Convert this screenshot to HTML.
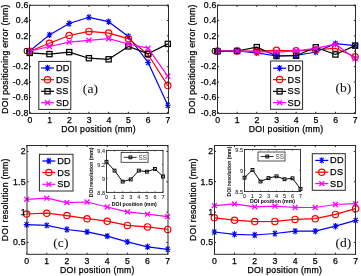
<!DOCTYPE html>
<html><head><meta charset="utf-8"><style>
html,body{margin:0;padding:0;background:#fff;}
body{width:361px;height:276px;overflow:hidden;}
svg{display:block;will-change:transform;}
</style></head><body>
<svg width="361" height="276" viewBox="0 0 361 276">
<rect width="361" height="276" fill="#fff"/>
<path d="M29.71 51 L49.44 34.9 L69.17 23.5 L88.9 17.3 L108.63 21.7 L128.36 36.5 L148.09 62.4 L167.82 105.3" stroke="#0000ff" stroke-width="1.2" fill="none" stroke-linejoin="round"/>
<path d="M26.83 51H32.59M29.71 47.8V54.2M27.73 48.44L31.69 53.56M27.73 53.56L31.69 48.44" stroke="#0000ff" stroke-width="1.05" fill="none"/>
<path d="M46.56 34.9H52.32M49.44 31.7V38.1M47.46 32.34L51.42 37.46M47.46 37.46L51.42 32.34" stroke="#0000ff" stroke-width="1.05" fill="none"/>
<path d="M66.29 23.5H72.05M69.17 20.3V26.7M67.19 20.94L71.15 26.06M67.19 26.06L71.15 20.94" stroke="#0000ff" stroke-width="1.05" fill="none"/>
<path d="M86.02 17.3H91.78M88.9 14.1V20.5M86.92 14.74L90.88 19.86M86.92 19.86L90.88 14.74" stroke="#0000ff" stroke-width="1.05" fill="none"/>
<path d="M105.75 21.7H111.51M108.63 18.5V24.9M106.65 19.14L110.61 24.26M106.65 24.26L110.61 19.14" stroke="#0000ff" stroke-width="1.05" fill="none"/>
<path d="M125.48 36.5H131.24M128.36 33.3V39.7M126.38 33.94L130.34 39.06M126.38 39.06L130.34 33.94" stroke="#0000ff" stroke-width="1.05" fill="none"/>
<path d="M145.21 62.4H150.97M148.09 59.2V65.6M146.11 59.84L150.07 64.96M146.11 64.96L150.07 59.84" stroke="#0000ff" stroke-width="1.05" fill="none"/>
<path d="M164.94 105.3H170.7M167.82 102.1V108.5M165.84 102.74L169.8 107.86M165.84 107.86L169.8 102.74" stroke="#0000ff" stroke-width="1.05" fill="none"/>
<path d="M29.71 51.24 L49.44 43.3 L69.17 35.5 L88.9 31.4 L108.63 33.1 L128.36 38.7 L148.09 54.5 L167.82 85.6" stroke="#ff0000" stroke-width="1.2" fill="none" stroke-linejoin="round"/>
<circle cx="29.71" cy="51.24" r="3.15" stroke="#ff0000" stroke-width="1.2" fill="none"/>
<circle cx="49.44" cy="43.3" r="3.15" stroke="#ff0000" stroke-width="1.2" fill="none"/>
<circle cx="69.17" cy="35.5" r="3.15" stroke="#ff0000" stroke-width="1.2" fill="none"/>
<circle cx="88.9" cy="31.4" r="3.15" stroke="#ff0000" stroke-width="1.2" fill="none"/>
<circle cx="108.63" cy="33.1" r="3.15" stroke="#ff0000" stroke-width="1.2" fill="none"/>
<circle cx="128.36" cy="38.7" r="3.15" stroke="#ff0000" stroke-width="1.2" fill="none"/>
<circle cx="148.09" cy="54.5" r="3.15" stroke="#ff0000" stroke-width="1.2" fill="none"/>
<circle cx="167.82" cy="85.6" r="3.15" stroke="#ff0000" stroke-width="1.2" fill="none"/>
<path d="M29.71 52.9 L49.44 54.1 L69.17 52.1 L88.9 58.2 L108.63 59.3 L128.36 46.4 L148.09 53.7 L167.82 43.9" stroke="#000000" stroke-width="1.2" fill="none" stroke-linejoin="round"/>
<rect x="27.11" y="50.3" width="5.2" height="5.2" stroke="#000000" stroke-width="1.25" fill="none"/>
<rect x="46.84" y="51.5" width="5.2" height="5.2" stroke="#000000" stroke-width="1.25" fill="none"/>
<rect x="66.57" y="49.5" width="5.2" height="5.2" stroke="#000000" stroke-width="1.25" fill="none"/>
<rect x="86.3" y="55.6" width="5.2" height="5.2" stroke="#000000" stroke-width="1.25" fill="none"/>
<rect x="106.03" y="56.7" width="5.2" height="5.2" stroke="#000000" stroke-width="1.25" fill="none"/>
<rect x="125.76" y="43.8" width="5.2" height="5.2" stroke="#000000" stroke-width="1.25" fill="none"/>
<rect x="145.49" y="51.1" width="5.2" height="5.2" stroke="#000000" stroke-width="1.25" fill="none"/>
<rect x="165.22" y="41.3" width="5.2" height="5.2" stroke="#000000" stroke-width="1.25" fill="none"/>
<path d="M29.71 51.24 L49.44 46.5 L69.17 42.1 L88.9 40.3 L108.63 38.7 L128.36 44 L148.09 48.2 L167.82 76.3" stroke="#ff00ff" stroke-width="1.2" fill="none" stroke-linejoin="round"/>
<path d="M27.25 48.78L32.17 53.7M27.25 53.7L32.17 48.78" stroke="#ff00ff" stroke-width="1.3" fill="none"/>
<path d="M46.97 44.03L51.91 48.97M46.97 48.97L51.91 44.03" stroke="#ff00ff" stroke-width="1.3" fill="none"/>
<path d="M66.7 39.64L71.64 44.56M66.7 44.56L71.64 39.64" stroke="#ff00ff" stroke-width="1.3" fill="none"/>
<path d="M86.44 37.83L91.37 42.77M86.44 42.77L91.37 37.83" stroke="#ff00ff" stroke-width="1.3" fill="none"/>
<path d="M106.16 36.23L111.09 41.17M106.16 41.17L111.09 36.23" stroke="#ff00ff" stroke-width="1.3" fill="none"/>
<path d="M125.9 41.53L130.83 46.47M125.9 46.47L130.83 41.53" stroke="#ff00ff" stroke-width="1.3" fill="none"/>
<path d="M145.62 45.73L150.56 50.67M145.62 50.67L150.56 45.73" stroke="#ff00ff" stroke-width="1.3" fill="none"/>
<path d="M165.36 73.83L170.29 78.77M165.36 78.77L170.29 73.83" stroke="#ff00ff" stroke-width="1.3" fill="none"/>
<line x1="29.71" y1="113.4" x2="29.71" y2="111.8" stroke="#2a2a2a" stroke-width="1"/>
<line x1="29.71" y1="5.3" x2="29.71" y2="6.9" stroke="#2a2a2a" stroke-width="1"/>
<line x1="49.44" y1="113.4" x2="49.44" y2="111.8" stroke="#2a2a2a" stroke-width="1"/>
<line x1="49.44" y1="5.3" x2="49.44" y2="6.9" stroke="#2a2a2a" stroke-width="1"/>
<line x1="69.17" y1="113.4" x2="69.17" y2="111.8" stroke="#2a2a2a" stroke-width="1"/>
<line x1="69.17" y1="5.3" x2="69.17" y2="6.9" stroke="#2a2a2a" stroke-width="1"/>
<line x1="88.9" y1="113.4" x2="88.9" y2="111.8" stroke="#2a2a2a" stroke-width="1"/>
<line x1="88.9" y1="5.3" x2="88.9" y2="6.9" stroke="#2a2a2a" stroke-width="1"/>
<line x1="108.63" y1="113.4" x2="108.63" y2="111.8" stroke="#2a2a2a" stroke-width="1"/>
<line x1="108.63" y1="5.3" x2="108.63" y2="6.9" stroke="#2a2a2a" stroke-width="1"/>
<line x1="128.36" y1="113.4" x2="128.36" y2="111.8" stroke="#2a2a2a" stroke-width="1"/>
<line x1="128.36" y1="5.3" x2="128.36" y2="6.9" stroke="#2a2a2a" stroke-width="1"/>
<line x1="148.09" y1="113.4" x2="148.09" y2="111.8" stroke="#2a2a2a" stroke-width="1"/>
<line x1="148.09" y1="5.3" x2="148.09" y2="6.9" stroke="#2a2a2a" stroke-width="1"/>
<line x1="167.82" y1="113.4" x2="167.82" y2="111.8" stroke="#2a2a2a" stroke-width="1"/>
<line x1="167.82" y1="5.3" x2="167.82" y2="6.9" stroke="#2a2a2a" stroke-width="1"/>
<line x1="29.5" y1="112.84" x2="31.1" y2="112.84" stroke="#2a2a2a" stroke-width="1"/>
<line x1="168.5" y1="112.84" x2="166.9" y2="112.84" stroke="#2a2a2a" stroke-width="1"/>
<line x1="29.5" y1="97.44" x2="31.1" y2="97.44" stroke="#2a2a2a" stroke-width="1"/>
<line x1="168.5" y1="97.44" x2="166.9" y2="97.44" stroke="#2a2a2a" stroke-width="1"/>
<line x1="29.5" y1="82.04" x2="31.1" y2="82.04" stroke="#2a2a2a" stroke-width="1"/>
<line x1="168.5" y1="82.04" x2="166.9" y2="82.04" stroke="#2a2a2a" stroke-width="1"/>
<line x1="29.5" y1="66.64" x2="31.1" y2="66.64" stroke="#2a2a2a" stroke-width="1"/>
<line x1="168.5" y1="66.64" x2="166.9" y2="66.64" stroke="#2a2a2a" stroke-width="1"/>
<line x1="29.5" y1="51.24" x2="31.1" y2="51.24" stroke="#2a2a2a" stroke-width="1"/>
<line x1="168.5" y1="51.24" x2="166.9" y2="51.24" stroke="#2a2a2a" stroke-width="1"/>
<line x1="29.5" y1="35.84" x2="31.1" y2="35.84" stroke="#2a2a2a" stroke-width="1"/>
<line x1="168.5" y1="35.84" x2="166.9" y2="35.84" stroke="#2a2a2a" stroke-width="1"/>
<line x1="29.5" y1="20.44" x2="31.1" y2="20.44" stroke="#2a2a2a" stroke-width="1"/>
<line x1="168.5" y1="20.44" x2="166.9" y2="20.44" stroke="#2a2a2a" stroke-width="1"/>
<line x1="29.5" y1="5.04" x2="31.1" y2="5.04" stroke="#2a2a2a" stroke-width="1"/>
<line x1="168.5" y1="5.04" x2="166.9" y2="5.04" stroke="#2a2a2a" stroke-width="1"/>
<rect x="29.5" y="5.3" width="139" height="108.1" stroke="#2a2a2a" stroke-width="1" fill="none"/>
<text x="30.01" y="119.8" font-size="8.7" font-family='"Liberation Sans", sans-serif' font-weight="normal" text-anchor="middle" dominant-baseline="central" fill="#000" letter-spacing="0.25" stroke="#000" stroke-width="0.25">0</text>
<text x="49.74" y="119.8" font-size="8.7" font-family='"Liberation Sans", sans-serif' font-weight="normal" text-anchor="middle" dominant-baseline="central" fill="#000" letter-spacing="0.25" stroke="#000" stroke-width="0.25">1</text>
<text x="69.47" y="119.8" font-size="8.7" font-family='"Liberation Sans", sans-serif' font-weight="normal" text-anchor="middle" dominant-baseline="central" fill="#000" letter-spacing="0.25" stroke="#000" stroke-width="0.25">2</text>
<text x="89.2" y="119.8" font-size="8.7" font-family='"Liberation Sans", sans-serif' font-weight="normal" text-anchor="middle" dominant-baseline="central" fill="#000" letter-spacing="0.25" stroke="#000" stroke-width="0.25">3</text>
<text x="108.93" y="119.8" font-size="8.7" font-family='"Liberation Sans", sans-serif' font-weight="normal" text-anchor="middle" dominant-baseline="central" fill="#000" letter-spacing="0.25" stroke="#000" stroke-width="0.25">4</text>
<text x="128.66" y="119.8" font-size="8.7" font-family='"Liberation Sans", sans-serif' font-weight="normal" text-anchor="middle" dominant-baseline="central" fill="#000" letter-spacing="0.25" stroke="#000" stroke-width="0.25">5</text>
<text x="148.39" y="119.8" font-size="8.7" font-family='"Liberation Sans", sans-serif' font-weight="normal" text-anchor="middle" dominant-baseline="central" fill="#000" letter-spacing="0.25" stroke="#000" stroke-width="0.25">6</text>
<text x="168.12" y="119.8" font-size="8.7" font-family='"Liberation Sans", sans-serif' font-weight="normal" text-anchor="middle" dominant-baseline="central" fill="#000" letter-spacing="0.25" stroke="#000" stroke-width="0.25">7</text>
<text x="28.7" y="112.64" font-size="8.7" font-family='"Liberation Sans", sans-serif' font-weight="normal" text-anchor="end" dominant-baseline="central" fill="#000" letter-spacing="0.25" stroke="#000" stroke-width="0.25">-0.8</text>
<text x="28.7" y="97.24" font-size="8.7" font-family='"Liberation Sans", sans-serif' font-weight="normal" text-anchor="end" dominant-baseline="central" fill="#000" letter-spacing="0.25" stroke="#000" stroke-width="0.25">-0.6</text>
<text x="28.7" y="81.84" font-size="8.7" font-family='"Liberation Sans", sans-serif' font-weight="normal" text-anchor="end" dominant-baseline="central" fill="#000" letter-spacing="0.25" stroke="#000" stroke-width="0.25">-0.4</text>
<text x="28.7" y="66.44" font-size="8.7" font-family='"Liberation Sans", sans-serif' font-weight="normal" text-anchor="end" dominant-baseline="central" fill="#000" letter-spacing="0.25" stroke="#000" stroke-width="0.25">-0.2</text>
<text x="28.7" y="51.04" font-size="8.7" font-family='"Liberation Sans", sans-serif' font-weight="normal" text-anchor="end" dominant-baseline="central" fill="#000" letter-spacing="0.25" stroke="#000" stroke-width="0.25">0</text>
<text x="28.7" y="35.64" font-size="8.7" font-family='"Liberation Sans", sans-serif' font-weight="normal" text-anchor="end" dominant-baseline="central" fill="#000" letter-spacing="0.25" stroke="#000" stroke-width="0.25">0.2</text>
<text x="28.7" y="20.24" font-size="8.7" font-family='"Liberation Sans", sans-serif' font-weight="normal" text-anchor="end" dominant-baseline="central" fill="#000" letter-spacing="0.25" stroke="#000" stroke-width="0.25">0.4</text>
<text x="28.7" y="4.84" font-size="8.7" font-family='"Liberation Sans", sans-serif' font-weight="normal" text-anchor="end" dominant-baseline="central" fill="#000" letter-spacing="0.25" stroke="#000" stroke-width="0.25">0.6</text>
<text x="98.6" y="128.8" font-size="8.7" font-family='"Liberation Sans", sans-serif' font-weight="normal" text-anchor="middle" dominant-baseline="central" fill="#000" letter-spacing="0.25" stroke="#000" stroke-width="0.25">DOI position (mm)</text>
<rect x="38.8" y="61.4" width="32" height="48" stroke="#2a2a2a" stroke-width="1" fill="#fff"/>
<line x1="41" y1="68" x2="54" y2="68" stroke="#0000ff" stroke-width="1.2"/>
<path d="M44.62 68H50.38M47.5 64.8V71.2M45.52 65.44L49.48 70.56M45.52 70.56L49.48 65.44" stroke="#0000ff" stroke-width="1.05" fill="none"/>
<text x="55.9" y="68" font-size="9.2" font-family='"Liberation Sans", sans-serif' font-weight="normal" text-anchor="start" dominant-baseline="central" fill="#000" letter-spacing="0.25" stroke="#000" stroke-width="0.25">DD</text>
<line x1="41" y1="79.7" x2="54" y2="79.7" stroke="#ff0000" stroke-width="1.2"/>
<circle cx="47.5" cy="79.7" r="3.15" stroke="#ff0000" stroke-width="1.2" fill="none"/>
<text x="55.9" y="79.7" font-size="9.2" font-family='"Liberation Sans", sans-serif' font-weight="normal" text-anchor="start" dominant-baseline="central" fill="#000" letter-spacing="0.25" stroke="#000" stroke-width="0.25">DS</text>
<line x1="41" y1="91.3" x2="54" y2="91.3" stroke="#000000" stroke-width="1.2"/>
<rect x="44.9" y="88.7" width="5.2" height="5.2" stroke="#000000" stroke-width="1.25" fill="none"/>
<text x="55.9" y="91.3" font-size="9.2" font-family='"Liberation Sans", sans-serif' font-weight="normal" text-anchor="start" dominant-baseline="central" fill="#000" letter-spacing="0.25" stroke="#000" stroke-width="0.25">SS</text>
<line x1="41" y1="102.7" x2="54" y2="102.7" stroke="#ff00ff" stroke-width="1.2"/>
<path d="M45.03 100.23L49.97 105.17M45.03 105.17L49.97 100.23" stroke="#ff00ff" stroke-width="1.3" fill="none"/>
<text x="55.9" y="102.7" font-size="9.2" font-family='"Liberation Sans", sans-serif' font-weight="normal" text-anchor="start" dominant-baseline="central" fill="#000" letter-spacing="0.25" stroke="#000" stroke-width="0.25">SD</text>
<text x="90.5" y="88" font-size="13.5" font-family='"Liberation Serif", serif' font-weight="normal" text-anchor="middle" dominant-baseline="central" fill="#111" letter-spacing="0.1" stroke="#111" stroke-width="0.05">(a)</text>
<path d="M217.43 51 L237.1 51 L256.77 52.9 L276.44 56 L296.11 55.5 L315.78 52 L335.45 43.6 L355.12 45.6" stroke="#0000ff" stroke-width="1.2" fill="none" stroke-linejoin="round"/>
<path d="M214.55 51H220.31M217.43 47.8V54.2M215.45 48.44L219.41 53.56M215.45 53.56L219.41 48.44" stroke="#0000ff" stroke-width="1.05" fill="none"/>
<path d="M234.22 51H239.98M237.1 47.8V54.2M235.12 48.44L239.08 53.56M235.12 53.56L239.08 48.44" stroke="#0000ff" stroke-width="1.05" fill="none"/>
<path d="M253.89 52.9H259.65M256.77 49.7V56.1M254.79 50.34L258.75 55.46M254.79 55.46L258.75 50.34" stroke="#0000ff" stroke-width="1.05" fill="none"/>
<path d="M273.56 56H279.32M276.44 52.8V59.2M274.46 53.44L278.42 58.56M274.46 58.56L278.42 53.44" stroke="#0000ff" stroke-width="1.05" fill="none"/>
<path d="M293.23 55.5H298.99M296.11 52.3V58.7M294.13 52.94L298.09 58.06M294.13 58.06L298.09 52.94" stroke="#0000ff" stroke-width="1.05" fill="none"/>
<path d="M312.9 52H318.66M315.78 48.8V55.2M313.8 49.44L317.76 54.56M313.8 54.56L317.76 49.44" stroke="#0000ff" stroke-width="1.05" fill="none"/>
<path d="M332.57 43.6H338.33M335.45 40.4V46.8M333.47 41.04L337.43 46.16M333.47 46.16L337.43 41.04" stroke="#0000ff" stroke-width="1.05" fill="none"/>
<path d="M352.24 45.6H358M355.12 42.4V48.8M353.14 43.04L357.1 48.16M353.14 48.16L357.1 43.04" stroke="#0000ff" stroke-width="1.05" fill="none"/>
<path d="M217.43 51 L237.1 51 L256.77 51.2 L276.44 50.3 L296.11 50.8 L315.78 50 L335.45 48.2 L355.12 56.8" stroke="#ff0000" stroke-width="1.2" fill="none" stroke-linejoin="round"/>
<circle cx="217.43" cy="51" r="3.15" stroke="#ff0000" stroke-width="1.2" fill="none"/>
<circle cx="237.1" cy="51" r="3.15" stroke="#ff0000" stroke-width="1.2" fill="none"/>
<circle cx="256.77" cy="51.2" r="3.15" stroke="#ff0000" stroke-width="1.2" fill="none"/>
<circle cx="276.44" cy="50.3" r="3.15" stroke="#ff0000" stroke-width="1.2" fill="none"/>
<circle cx="296.11" cy="50.8" r="3.15" stroke="#ff0000" stroke-width="1.2" fill="none"/>
<circle cx="315.78" cy="50" r="3.15" stroke="#ff0000" stroke-width="1.2" fill="none"/>
<circle cx="335.45" cy="48.2" r="3.15" stroke="#ff0000" stroke-width="1.2" fill="none"/>
<circle cx="355.12" cy="56.8" r="3.15" stroke="#ff0000" stroke-width="1.2" fill="none"/>
<path d="M217.43 51.3 L237.1 51 L256.77 47.1 L276.44 56 L296.11 55.7 L315.78 47.3 L335.45 54.5 L355.12 45.6" stroke="#000000" stroke-width="1.2" fill="none" stroke-linejoin="round"/>
<rect x="214.83" y="48.7" width="5.2" height="5.2" stroke="#000000" stroke-width="1.25" fill="none"/>
<rect x="234.5" y="48.4" width="5.2" height="5.2" stroke="#000000" stroke-width="1.25" fill="none"/>
<rect x="254.17" y="44.5" width="5.2" height="5.2" stroke="#000000" stroke-width="1.25" fill="none"/>
<rect x="273.84" y="53.4" width="5.2" height="5.2" stroke="#000000" stroke-width="1.25" fill="none"/>
<rect x="293.51" y="53.1" width="5.2" height="5.2" stroke="#000000" stroke-width="1.25" fill="none"/>
<rect x="313.18" y="44.7" width="5.2" height="5.2" stroke="#000000" stroke-width="1.25" fill="none"/>
<rect x="332.85" y="51.9" width="5.2" height="5.2" stroke="#000000" stroke-width="1.25" fill="none"/>
<rect x="352.52" y="43" width="5.2" height="5.2" stroke="#000000" stroke-width="1.25" fill="none"/>
<path d="M217.43 51 L237.1 51 L256.77 51.6 L276.44 52.1 L296.11 50.8 L315.78 48.4 L335.45 44.1 L355.12 58.8" stroke="#ff00ff" stroke-width="1.2" fill="none" stroke-linejoin="round"/>
<path d="M214.97 48.53L219.9 53.47M214.97 53.47L219.9 48.53" stroke="#ff00ff" stroke-width="1.3" fill="none"/>
<path d="M234.64 48.53L239.57 53.47M234.64 53.47L239.57 48.53" stroke="#ff00ff" stroke-width="1.3" fill="none"/>
<path d="M254.3 49.14L259.23 54.06M254.3 54.06L259.23 49.14" stroke="#ff00ff" stroke-width="1.3" fill="none"/>
<path d="M273.98 49.64L278.9 54.56M273.98 54.56L278.9 49.64" stroke="#ff00ff" stroke-width="1.3" fill="none"/>
<path d="M293.65 48.33L298.57 53.27M293.65 53.27L298.57 48.33" stroke="#ff00ff" stroke-width="1.3" fill="none"/>
<path d="M313.32 45.94L318.25 50.86M313.32 50.86L318.25 45.94" stroke="#ff00ff" stroke-width="1.3" fill="none"/>
<path d="M332.99 41.64L337.92 46.56M332.99 46.56L337.92 41.64" stroke="#ff00ff" stroke-width="1.3" fill="none"/>
<path d="M352.66 56.33L357.58 61.27M352.66 61.27L357.58 56.33" stroke="#ff00ff" stroke-width="1.3" fill="none"/>
<line x1="217.43" y1="113.4" x2="217.43" y2="111.8" stroke="#2a2a2a" stroke-width="1"/>
<line x1="217.43" y1="5.3" x2="217.43" y2="6.9" stroke="#2a2a2a" stroke-width="1"/>
<line x1="237.1" y1="113.4" x2="237.1" y2="111.8" stroke="#2a2a2a" stroke-width="1"/>
<line x1="237.1" y1="5.3" x2="237.1" y2="6.9" stroke="#2a2a2a" stroke-width="1"/>
<line x1="256.77" y1="113.4" x2="256.77" y2="111.8" stroke="#2a2a2a" stroke-width="1"/>
<line x1="256.77" y1="5.3" x2="256.77" y2="6.9" stroke="#2a2a2a" stroke-width="1"/>
<line x1="276.44" y1="113.4" x2="276.44" y2="111.8" stroke="#2a2a2a" stroke-width="1"/>
<line x1="276.44" y1="5.3" x2="276.44" y2="6.9" stroke="#2a2a2a" stroke-width="1"/>
<line x1="296.11" y1="113.4" x2="296.11" y2="111.8" stroke="#2a2a2a" stroke-width="1"/>
<line x1="296.11" y1="5.3" x2="296.11" y2="6.9" stroke="#2a2a2a" stroke-width="1"/>
<line x1="315.78" y1="113.4" x2="315.78" y2="111.8" stroke="#2a2a2a" stroke-width="1"/>
<line x1="315.78" y1="5.3" x2="315.78" y2="6.9" stroke="#2a2a2a" stroke-width="1"/>
<line x1="335.45" y1="113.4" x2="335.45" y2="111.8" stroke="#2a2a2a" stroke-width="1"/>
<line x1="335.45" y1="5.3" x2="335.45" y2="6.9" stroke="#2a2a2a" stroke-width="1"/>
<line x1="355.12" y1="113.4" x2="355.12" y2="111.8" stroke="#2a2a2a" stroke-width="1"/>
<line x1="355.12" y1="5.3" x2="355.12" y2="6.9" stroke="#2a2a2a" stroke-width="1"/>
<line x1="217.5" y1="112.84" x2="219.1" y2="112.84" stroke="#2a2a2a" stroke-width="1"/>
<line x1="355.5" y1="112.84" x2="353.9" y2="112.84" stroke="#2a2a2a" stroke-width="1"/>
<line x1="217.5" y1="97.44" x2="219.1" y2="97.44" stroke="#2a2a2a" stroke-width="1"/>
<line x1="355.5" y1="97.44" x2="353.9" y2="97.44" stroke="#2a2a2a" stroke-width="1"/>
<line x1="217.5" y1="82.04" x2="219.1" y2="82.04" stroke="#2a2a2a" stroke-width="1"/>
<line x1="355.5" y1="82.04" x2="353.9" y2="82.04" stroke="#2a2a2a" stroke-width="1"/>
<line x1="217.5" y1="66.64" x2="219.1" y2="66.64" stroke="#2a2a2a" stroke-width="1"/>
<line x1="355.5" y1="66.64" x2="353.9" y2="66.64" stroke="#2a2a2a" stroke-width="1"/>
<line x1="217.5" y1="51.24" x2="219.1" y2="51.24" stroke="#2a2a2a" stroke-width="1"/>
<line x1="355.5" y1="51.24" x2="353.9" y2="51.24" stroke="#2a2a2a" stroke-width="1"/>
<line x1="217.5" y1="35.84" x2="219.1" y2="35.84" stroke="#2a2a2a" stroke-width="1"/>
<line x1="355.5" y1="35.84" x2="353.9" y2="35.84" stroke="#2a2a2a" stroke-width="1"/>
<line x1="217.5" y1="20.44" x2="219.1" y2="20.44" stroke="#2a2a2a" stroke-width="1"/>
<line x1="355.5" y1="20.44" x2="353.9" y2="20.44" stroke="#2a2a2a" stroke-width="1"/>
<line x1="217.5" y1="5.04" x2="219.1" y2="5.04" stroke="#2a2a2a" stroke-width="1"/>
<line x1="355.5" y1="5.04" x2="353.9" y2="5.04" stroke="#2a2a2a" stroke-width="1"/>
<rect x="217.5" y="5.3" width="138" height="108.1" stroke="#2a2a2a" stroke-width="1" fill="none"/>
<text x="217.73" y="119.8" font-size="8.7" font-family='"Liberation Sans", sans-serif' font-weight="normal" text-anchor="middle" dominant-baseline="central" fill="#000" letter-spacing="0.25" stroke="#000" stroke-width="0.25">0</text>
<text x="237.4" y="119.8" font-size="8.7" font-family='"Liberation Sans", sans-serif' font-weight="normal" text-anchor="middle" dominant-baseline="central" fill="#000" letter-spacing="0.25" stroke="#000" stroke-width="0.25">1</text>
<text x="257.07" y="119.8" font-size="8.7" font-family='"Liberation Sans", sans-serif' font-weight="normal" text-anchor="middle" dominant-baseline="central" fill="#000" letter-spacing="0.25" stroke="#000" stroke-width="0.25">2</text>
<text x="276.74" y="119.8" font-size="8.7" font-family='"Liberation Sans", sans-serif' font-weight="normal" text-anchor="middle" dominant-baseline="central" fill="#000" letter-spacing="0.25" stroke="#000" stroke-width="0.25">3</text>
<text x="296.41" y="119.8" font-size="8.7" font-family='"Liberation Sans", sans-serif' font-weight="normal" text-anchor="middle" dominant-baseline="central" fill="#000" letter-spacing="0.25" stroke="#000" stroke-width="0.25">4</text>
<text x="316.08" y="119.8" font-size="8.7" font-family='"Liberation Sans", sans-serif' font-weight="normal" text-anchor="middle" dominant-baseline="central" fill="#000" letter-spacing="0.25" stroke="#000" stroke-width="0.25">5</text>
<text x="335.75" y="119.8" font-size="8.7" font-family='"Liberation Sans", sans-serif' font-weight="normal" text-anchor="middle" dominant-baseline="central" fill="#000" letter-spacing="0.25" stroke="#000" stroke-width="0.25">6</text>
<text x="355.42" y="119.8" font-size="8.7" font-family='"Liberation Sans", sans-serif' font-weight="normal" text-anchor="middle" dominant-baseline="central" fill="#000" letter-spacing="0.25" stroke="#000" stroke-width="0.25">7</text>
<text x="216.7" y="112.64" font-size="8.7" font-family='"Liberation Sans", sans-serif' font-weight="normal" text-anchor="end" dominant-baseline="central" fill="#000" letter-spacing="0.25" stroke="#000" stroke-width="0.25">-0.8</text>
<text x="216.7" y="97.24" font-size="8.7" font-family='"Liberation Sans", sans-serif' font-weight="normal" text-anchor="end" dominant-baseline="central" fill="#000" letter-spacing="0.25" stroke="#000" stroke-width="0.25">-0.6</text>
<text x="216.7" y="81.84" font-size="8.7" font-family='"Liberation Sans", sans-serif' font-weight="normal" text-anchor="end" dominant-baseline="central" fill="#000" letter-spacing="0.25" stroke="#000" stroke-width="0.25">-0.4</text>
<text x="216.7" y="66.44" font-size="8.7" font-family='"Liberation Sans", sans-serif' font-weight="normal" text-anchor="end" dominant-baseline="central" fill="#000" letter-spacing="0.25" stroke="#000" stroke-width="0.25">-0.2</text>
<text x="216.7" y="51.04" font-size="8.7" font-family='"Liberation Sans", sans-serif' font-weight="normal" text-anchor="end" dominant-baseline="central" fill="#000" letter-spacing="0.25" stroke="#000" stroke-width="0.25">0</text>
<text x="216.7" y="35.64" font-size="8.7" font-family='"Liberation Sans", sans-serif' font-weight="normal" text-anchor="end" dominant-baseline="central" fill="#000" letter-spacing="0.25" stroke="#000" stroke-width="0.25">0.2</text>
<text x="216.7" y="20.24" font-size="8.7" font-family='"Liberation Sans", sans-serif' font-weight="normal" text-anchor="end" dominant-baseline="central" fill="#000" letter-spacing="0.25" stroke="#000" stroke-width="0.25">0.4</text>
<text x="216.7" y="4.84" font-size="8.7" font-family='"Liberation Sans", sans-serif' font-weight="normal" text-anchor="end" dominant-baseline="central" fill="#000" letter-spacing="0.25" stroke="#000" stroke-width="0.25">0.6</text>
<text x="286.1" y="128.8" font-size="8.7" font-family='"Liberation Sans", sans-serif' font-weight="normal" text-anchor="middle" dominant-baseline="central" fill="#000" letter-spacing="0.25" stroke="#000" stroke-width="0.25">DOI position (mm)</text>
<rect x="270.6" y="61" width="32" height="48.3" stroke="#2a2a2a" stroke-width="1" fill="#fff"/>
<line x1="273" y1="68.2" x2="286.2" y2="68.2" stroke="#0000ff" stroke-width="1.2"/>
<path d="M276.72 68.2H282.48M279.6 65V71.4M277.62 65.64L281.58 70.76M277.62 70.76L281.58 65.64" stroke="#0000ff" stroke-width="1.05" fill="none"/>
<text x="287.6" y="68.2" font-size="9.2" font-family='"Liberation Sans", sans-serif' font-weight="normal" text-anchor="start" dominant-baseline="central" fill="#000" letter-spacing="0.25" stroke="#000" stroke-width="0.25">DD</text>
<line x1="273" y1="79.6" x2="286.2" y2="79.6" stroke="#ff0000" stroke-width="1.2"/>
<circle cx="279.6" cy="79.6" r="3.15" stroke="#ff0000" stroke-width="1.2" fill="none"/>
<text x="287.6" y="79.6" font-size="9.2" font-family='"Liberation Sans", sans-serif' font-weight="normal" text-anchor="start" dominant-baseline="central" fill="#000" letter-spacing="0.25" stroke="#000" stroke-width="0.25">DS</text>
<line x1="273" y1="91.4" x2="286.2" y2="91.4" stroke="#000000" stroke-width="1.2"/>
<rect x="277" y="88.8" width="5.2" height="5.2" stroke="#000000" stroke-width="1.25" fill="none"/>
<text x="287.6" y="91.4" font-size="9.2" font-family='"Liberation Sans", sans-serif' font-weight="normal" text-anchor="start" dominant-baseline="central" fill="#000" letter-spacing="0.25" stroke="#000" stroke-width="0.25">SS</text>
<line x1="273" y1="102.6" x2="286.2" y2="102.6" stroke="#ff00ff" stroke-width="1.2"/>
<path d="M277.14 100.13L282.06 105.06M277.14 105.06L282.06 100.13" stroke="#ff00ff" stroke-width="1.3" fill="none"/>
<text x="287.6" y="102.6" font-size="9.2" font-family='"Liberation Sans", sans-serif' font-weight="normal" text-anchor="start" dominant-baseline="central" fill="#000" letter-spacing="0.25" stroke="#000" stroke-width="0.25">SD</text>
<text x="343.4" y="87.8" font-size="13.5" font-family='"Liberation Serif", serif' font-weight="normal" text-anchor="middle" dominant-baseline="central" fill="#111" letter-spacing="0.1" stroke="#111" stroke-width="0.05">(b)</text>
<path d="M26.62 224.6 L46.77 225.4 L66.92 229.5 L87.07 231.9 L107.22 236.1 L127.37 241.9 L147.52 246.8 L167.67 249.3" stroke="#0000ff" stroke-width="1.2" fill="none" stroke-linejoin="round"/>
<path d="M23.74 224.6H29.5M26.62 221.4V227.8M24.64 222.04L28.6 227.16M24.64 227.16L28.6 222.04" stroke="#0000ff" stroke-width="1.05" fill="none"/>
<path d="M43.89 225.4H49.65M46.77 222.2V228.6M44.79 222.84L48.75 227.96M44.79 227.96L48.75 222.84" stroke="#0000ff" stroke-width="1.05" fill="none"/>
<path d="M64.04 229.5H69.8M66.92 226.3V232.7M64.94 226.94L68.9 232.06M64.94 232.06L68.9 226.94" stroke="#0000ff" stroke-width="1.05" fill="none"/>
<path d="M84.19 231.9H89.95M87.07 228.7V235.1M85.09 229.34L89.05 234.46M85.09 234.46L89.05 229.34" stroke="#0000ff" stroke-width="1.05" fill="none"/>
<path d="M104.34 236.1H110.1M107.22 232.9V239.3M105.24 233.54L109.2 238.66M105.24 238.66L109.2 233.54" stroke="#0000ff" stroke-width="1.05" fill="none"/>
<path d="M124.49 241.9H130.25M127.37 238.7V245.1M125.39 239.34L129.35 244.46M125.39 244.46L129.35 239.34" stroke="#0000ff" stroke-width="1.05" fill="none"/>
<path d="M144.64 246.8H150.4M147.52 243.6V250M145.54 244.24L149.5 249.36M145.54 249.36L149.5 244.24" stroke="#0000ff" stroke-width="1.05" fill="none"/>
<path d="M164.79 249.3H170.55M167.67 246.1V252.5M165.69 246.74L169.65 251.86M165.69 251.86L169.65 246.74" stroke="#0000ff" stroke-width="1.05" fill="none"/>
<path d="M26.62 214 L46.77 213.2 L66.92 215.6 L87.07 218.7 L107.22 221.2 L127.37 225.4 L147.52 226.9 L167.67 229.4" stroke="#ff0000" stroke-width="1.2" fill="none" stroke-linejoin="round"/>
<circle cx="26.62" cy="214" r="3.15" stroke="#ff0000" stroke-width="1.2" fill="none"/>
<circle cx="46.77" cy="213.2" r="3.15" stroke="#ff0000" stroke-width="1.2" fill="none"/>
<circle cx="66.92" cy="215.6" r="3.15" stroke="#ff0000" stroke-width="1.2" fill="none"/>
<circle cx="87.07" cy="218.7" r="3.15" stroke="#ff0000" stroke-width="1.2" fill="none"/>
<circle cx="107.22" cy="221.2" r="3.15" stroke="#ff0000" stroke-width="1.2" fill="none"/>
<circle cx="127.37" cy="225.4" r="3.15" stroke="#ff0000" stroke-width="1.2" fill="none"/>
<circle cx="147.52" cy="226.9" r="3.15" stroke="#ff0000" stroke-width="1.2" fill="none"/>
<circle cx="167.67" cy="229.4" r="3.15" stroke="#ff0000" stroke-width="1.2" fill="none"/>
<path d="M26.62 199.3 L46.77 198.2 L66.92 202.6 L87.07 202 L107.22 207 L127.37 211.9 L147.52 214.2 L167.67 216.7" stroke="#ff00ff" stroke-width="1.2" fill="none" stroke-linejoin="round"/>
<path d="M24.16 196.84L29.09 201.77M24.16 201.77L29.09 196.84" stroke="#ff00ff" stroke-width="1.3" fill="none"/>
<path d="M44.3 195.73L49.23 200.66M44.3 200.66L49.23 195.73" stroke="#ff00ff" stroke-width="1.3" fill="none"/>
<path d="M64.45 200.13L69.39 205.06M64.45 205.06L69.39 200.13" stroke="#ff00ff" stroke-width="1.3" fill="none"/>
<path d="M84.6 199.53L89.53 204.47M84.6 204.47L89.53 199.53" stroke="#ff00ff" stroke-width="1.3" fill="none"/>
<path d="M104.75 204.53L109.69 209.47M104.75 209.47L109.69 204.53" stroke="#ff00ff" stroke-width="1.3" fill="none"/>
<path d="M124.91 209.44L129.84 214.37M124.91 214.37L129.84 209.44" stroke="#ff00ff" stroke-width="1.3" fill="none"/>
<path d="M145.05 211.73L149.98 216.66M145.05 216.66L149.98 211.73" stroke="#ff00ff" stroke-width="1.3" fill="none"/>
<path d="M165.2 214.23L170.13 219.16M165.2 219.16L170.13 214.23" stroke="#ff00ff" stroke-width="1.3" fill="none"/>
<line x1="26.62" y1="254.3" x2="26.62" y2="252.7" stroke="#2a2a2a" stroke-width="1"/>
<line x1="26.62" y1="145.5" x2="26.62" y2="147.1" stroke="#2a2a2a" stroke-width="1"/>
<line x1="46.77" y1="254.3" x2="46.77" y2="252.7" stroke="#2a2a2a" stroke-width="1"/>
<line x1="46.77" y1="145.5" x2="46.77" y2="147.1" stroke="#2a2a2a" stroke-width="1"/>
<line x1="66.92" y1="254.3" x2="66.92" y2="252.7" stroke="#2a2a2a" stroke-width="1"/>
<line x1="66.92" y1="145.5" x2="66.92" y2="147.1" stroke="#2a2a2a" stroke-width="1"/>
<line x1="87.07" y1="254.3" x2="87.07" y2="252.7" stroke="#2a2a2a" stroke-width="1"/>
<line x1="87.07" y1="145.5" x2="87.07" y2="147.1" stroke="#2a2a2a" stroke-width="1"/>
<line x1="107.22" y1="254.3" x2="107.22" y2="252.7" stroke="#2a2a2a" stroke-width="1"/>
<line x1="107.22" y1="145.5" x2="107.22" y2="147.1" stroke="#2a2a2a" stroke-width="1"/>
<line x1="127.37" y1="254.3" x2="127.37" y2="252.7" stroke="#2a2a2a" stroke-width="1"/>
<line x1="127.37" y1="145.5" x2="127.37" y2="147.1" stroke="#2a2a2a" stroke-width="1"/>
<line x1="147.52" y1="254.3" x2="147.52" y2="252.7" stroke="#2a2a2a" stroke-width="1"/>
<line x1="147.52" y1="145.5" x2="147.52" y2="147.1" stroke="#2a2a2a" stroke-width="1"/>
<line x1="167.67" y1="254.3" x2="167.67" y2="252.7" stroke="#2a2a2a" stroke-width="1"/>
<line x1="167.67" y1="145.5" x2="167.67" y2="147.1" stroke="#2a2a2a" stroke-width="1"/>
<line x1="27" y1="242.44" x2="28.6" y2="242.44" stroke="#2a2a2a" stroke-width="1"/>
<line x1="168" y1="242.44" x2="166.4" y2="242.44" stroke="#2a2a2a" stroke-width="1"/>
<line x1="27" y1="212.11" x2="28.6" y2="212.11" stroke="#2a2a2a" stroke-width="1"/>
<line x1="168" y1="212.11" x2="166.4" y2="212.11" stroke="#2a2a2a" stroke-width="1"/>
<line x1="27" y1="181.78" x2="28.6" y2="181.78" stroke="#2a2a2a" stroke-width="1"/>
<line x1="168" y1="181.78" x2="166.4" y2="181.78" stroke="#2a2a2a" stroke-width="1"/>
<line x1="27" y1="151.44" x2="28.6" y2="151.44" stroke="#2a2a2a" stroke-width="1"/>
<line x1="168" y1="151.44" x2="166.4" y2="151.44" stroke="#2a2a2a" stroke-width="1"/>
<rect x="27" y="145.5" width="141" height="108.8" stroke="#2a2a2a" stroke-width="1" fill="none"/>
<text x="26.72" y="260.9" font-size="8.7" font-family='"Liberation Sans", sans-serif' font-weight="normal" text-anchor="middle" dominant-baseline="central" fill="#000" letter-spacing="0.25" stroke="#000" stroke-width="0.25">0</text>
<text x="46.87" y="260.9" font-size="8.7" font-family='"Liberation Sans", sans-serif' font-weight="normal" text-anchor="middle" dominant-baseline="central" fill="#000" letter-spacing="0.25" stroke="#000" stroke-width="0.25">1</text>
<text x="67.02" y="260.9" font-size="8.7" font-family='"Liberation Sans", sans-serif' font-weight="normal" text-anchor="middle" dominant-baseline="central" fill="#000" letter-spacing="0.25" stroke="#000" stroke-width="0.25">2</text>
<text x="87.17" y="260.9" font-size="8.7" font-family='"Liberation Sans", sans-serif' font-weight="normal" text-anchor="middle" dominant-baseline="central" fill="#000" letter-spacing="0.25" stroke="#000" stroke-width="0.25">3</text>
<text x="107.32" y="260.9" font-size="8.7" font-family='"Liberation Sans", sans-serif' font-weight="normal" text-anchor="middle" dominant-baseline="central" fill="#000" letter-spacing="0.25" stroke="#000" stroke-width="0.25">4</text>
<text x="127.47" y="260.9" font-size="8.7" font-family='"Liberation Sans", sans-serif' font-weight="normal" text-anchor="middle" dominant-baseline="central" fill="#000" letter-spacing="0.25" stroke="#000" stroke-width="0.25">5</text>
<text x="147.62" y="260.9" font-size="8.7" font-family='"Liberation Sans", sans-serif' font-weight="normal" text-anchor="middle" dominant-baseline="central" fill="#000" letter-spacing="0.25" stroke="#000" stroke-width="0.25">6</text>
<text x="167.77" y="260.9" font-size="8.7" font-family='"Liberation Sans", sans-serif' font-weight="normal" text-anchor="middle" dominant-baseline="central" fill="#000" letter-spacing="0.25" stroke="#000" stroke-width="0.25">7</text>
<text x="25.8" y="242.25" font-size="8.7" font-family='"Liberation Sans", sans-serif' font-weight="normal" text-anchor="end" dominant-baseline="central" fill="#000" letter-spacing="0.25" stroke="#000" stroke-width="0.25">0.5</text>
<text x="25.8" y="211.91" font-size="8.7" font-family='"Liberation Sans", sans-serif' font-weight="normal" text-anchor="end" dominant-baseline="central" fill="#000" letter-spacing="0.25" stroke="#000" stroke-width="0.25">1</text>
<text x="25.8" y="181.58" font-size="8.7" font-family='"Liberation Sans", sans-serif' font-weight="normal" text-anchor="end" dominant-baseline="central" fill="#000" letter-spacing="0.25" stroke="#000" stroke-width="0.25">1.5</text>
<text x="25.8" y="151.24" font-size="8.7" font-family='"Liberation Sans", sans-serif' font-weight="normal" text-anchor="end" dominant-baseline="central" fill="#000" letter-spacing="0.25" stroke="#000" stroke-width="0.25">2</text>
<text x="97.3" y="269.8" font-size="8.7" font-family='"Liberation Sans", sans-serif' font-weight="normal" text-anchor="middle" dominant-baseline="central" fill="#000" letter-spacing="0.25" stroke="#000" stroke-width="0.25">DOI position (mm)</text>
<rect x="39.4" y="154.3" width="33.6" height="36.7" stroke="#2a2a2a" stroke-width="1" fill="#fff"/>
<line x1="42.3" y1="161" x2="55.4" y2="161" stroke="#0000ff" stroke-width="1.2"/>
<path d="M45.97 161H51.73M48.85 157.8V164.2M46.87 158.44L50.83 163.56M46.87 163.56L50.83 158.44" stroke="#0000ff" stroke-width="1.05" fill="none"/>
<text x="57.2" y="161" font-size="9.2" font-family='"Liberation Sans", sans-serif' font-weight="normal" text-anchor="start" dominant-baseline="central" fill="#000" letter-spacing="0.25" stroke="#000" stroke-width="0.25">DD</text>
<line x1="42.3" y1="172.5" x2="55.4" y2="172.5" stroke="#ff0000" stroke-width="1.2"/>
<circle cx="48.85" cy="172.5" r="3.15" stroke="#ff0000" stroke-width="1.2" fill="none"/>
<text x="57.2" y="172.5" font-size="9.2" font-family='"Liberation Sans", sans-serif' font-weight="normal" text-anchor="start" dominant-baseline="central" fill="#000" letter-spacing="0.25" stroke="#000" stroke-width="0.25">DS</text>
<line x1="42.3" y1="184.3" x2="55.4" y2="184.3" stroke="#ff00ff" stroke-width="1.2"/>
<path d="M46.38 181.84L51.31 186.77M46.38 186.77L51.31 181.84" stroke="#ff00ff" stroke-width="1.3" fill="none"/>
<text x="57.2" y="184.3" font-size="9.2" font-family='"Liberation Sans", sans-serif' font-weight="normal" text-anchor="start" dominant-baseline="central" fill="#000" letter-spacing="0.25" stroke="#000" stroke-width="0.25">SD</text>
<text x="60.9" y="242.5" font-size="13.5" font-family='"Liberation Serif", serif' font-weight="normal" text-anchor="middle" dominant-baseline="central" fill="#111" letter-spacing="0.1" stroke="#111" stroke-width="0.05">(c)</text>
<path d="M214.36 232 L234.54 234.3 L254.72 235 L274.9 233.5 L295.08 231.2 L315.26 231.2 L335.44 226.2 L355.62 220.4" stroke="#0000ff" stroke-width="1.2" fill="none" stroke-linejoin="round"/>
<path d="M211.48 232H217.24M214.36 228.8V235.2M212.38 229.44L216.34 234.56M212.38 234.56L216.34 229.44" stroke="#0000ff" stroke-width="1.05" fill="none"/>
<path d="M231.66 234.3H237.42M234.54 231.1V237.5M232.56 231.74L236.52 236.86M232.56 236.86L236.52 231.74" stroke="#0000ff" stroke-width="1.05" fill="none"/>
<path d="M251.84 235H257.6M254.72 231.8V238.2M252.74 232.44L256.7 237.56M252.74 237.56L256.7 232.44" stroke="#0000ff" stroke-width="1.05" fill="none"/>
<path d="M272.02 233.5H277.78M274.9 230.3V236.7M272.92 230.94L276.88 236.06M272.92 236.06L276.88 230.94" stroke="#0000ff" stroke-width="1.05" fill="none"/>
<path d="M292.2 231.2H297.96M295.08 228V234.4M293.1 228.64L297.06 233.76M293.1 233.76L297.06 228.64" stroke="#0000ff" stroke-width="1.05" fill="none"/>
<path d="M312.38 231.2H318.14M315.26 228V234.4M313.28 228.64L317.24 233.76M313.28 233.76L317.24 228.64" stroke="#0000ff" stroke-width="1.05" fill="none"/>
<path d="M332.56 226.2H338.32M335.44 223V229.4M333.46 223.64L337.42 228.76M333.46 228.76L337.42 223.64" stroke="#0000ff" stroke-width="1.05" fill="none"/>
<path d="M352.74 220.4H358.5M355.62 217.2V223.6M353.64 217.84L357.6 222.96M353.64 222.96L357.6 217.84" stroke="#0000ff" stroke-width="1.05" fill="none"/>
<path d="M214.36 217.8 L234.54 220.2 L254.72 221.6 L274.9 221.4 L295.08 219.4 L315.26 218.7 L335.44 214.4 L355.62 208.7" stroke="#ff0000" stroke-width="1.2" fill="none" stroke-linejoin="round"/>
<circle cx="214.36" cy="217.8" r="3.15" stroke="#ff0000" stroke-width="1.2" fill="none"/>
<circle cx="234.54" cy="220.2" r="3.15" stroke="#ff0000" stroke-width="1.2" fill="none"/>
<circle cx="254.72" cy="221.6" r="3.15" stroke="#ff0000" stroke-width="1.2" fill="none"/>
<circle cx="274.9" cy="221.4" r="3.15" stroke="#ff0000" stroke-width="1.2" fill="none"/>
<circle cx="295.08" cy="219.4" r="3.15" stroke="#ff0000" stroke-width="1.2" fill="none"/>
<circle cx="315.26" cy="218.7" r="3.15" stroke="#ff0000" stroke-width="1.2" fill="none"/>
<circle cx="335.44" cy="214.4" r="3.15" stroke="#ff0000" stroke-width="1.2" fill="none"/>
<circle cx="355.62" cy="208.7" r="3.15" stroke="#ff0000" stroke-width="1.2" fill="none"/>
<path d="M214.36 205.6 L234.54 203.9 L254.72 206.8 L274.9 206.2 L295.08 207.5 L315.26 207.5 L335.44 204.5 L355.62 203.7" stroke="#ff00ff" stroke-width="1.2" fill="none" stroke-linejoin="round"/>
<path d="M211.9 203.13L216.83 208.06M211.9 208.06L216.83 203.13" stroke="#ff00ff" stroke-width="1.3" fill="none"/>
<path d="M232.08 201.44L237.01 206.37M232.08 206.37L237.01 201.44" stroke="#ff00ff" stroke-width="1.3" fill="none"/>
<path d="M252.26 204.34L257.19 209.27M252.26 209.27L257.19 204.34" stroke="#ff00ff" stroke-width="1.3" fill="none"/>
<path d="M272.44 203.73L277.37 208.66M272.44 208.66L277.37 203.73" stroke="#ff00ff" stroke-width="1.3" fill="none"/>
<path d="M292.62 205.03L297.55 209.97M292.62 209.97L297.55 205.03" stroke="#ff00ff" stroke-width="1.3" fill="none"/>
<path d="M312.8 205.03L317.72 209.97M312.8 209.97L317.72 205.03" stroke="#ff00ff" stroke-width="1.3" fill="none"/>
<path d="M332.98 202.03L337.9 206.97M332.98 206.97L337.9 202.03" stroke="#ff00ff" stroke-width="1.3" fill="none"/>
<path d="M353.16 201.23L358.08 206.16M353.16 206.16L358.08 201.23" stroke="#ff00ff" stroke-width="1.3" fill="none"/>
<line x1="214.36" y1="254.3" x2="214.36" y2="252.7" stroke="#2a2a2a" stroke-width="1"/>
<line x1="214.36" y1="145.5" x2="214.36" y2="147.1" stroke="#2a2a2a" stroke-width="1"/>
<line x1="234.54" y1="254.3" x2="234.54" y2="252.7" stroke="#2a2a2a" stroke-width="1"/>
<line x1="234.54" y1="145.5" x2="234.54" y2="147.1" stroke="#2a2a2a" stroke-width="1"/>
<line x1="254.72" y1="254.3" x2="254.72" y2="252.7" stroke="#2a2a2a" stroke-width="1"/>
<line x1="254.72" y1="145.5" x2="254.72" y2="147.1" stroke="#2a2a2a" stroke-width="1"/>
<line x1="274.9" y1="254.3" x2="274.9" y2="252.7" stroke="#2a2a2a" stroke-width="1"/>
<line x1="274.9" y1="145.5" x2="274.9" y2="147.1" stroke="#2a2a2a" stroke-width="1"/>
<line x1="295.08" y1="254.3" x2="295.08" y2="252.7" stroke="#2a2a2a" stroke-width="1"/>
<line x1="295.08" y1="145.5" x2="295.08" y2="147.1" stroke="#2a2a2a" stroke-width="1"/>
<line x1="315.26" y1="254.3" x2="315.26" y2="252.7" stroke="#2a2a2a" stroke-width="1"/>
<line x1="315.26" y1="145.5" x2="315.26" y2="147.1" stroke="#2a2a2a" stroke-width="1"/>
<line x1="335.44" y1="254.3" x2="335.44" y2="252.7" stroke="#2a2a2a" stroke-width="1"/>
<line x1="335.44" y1="145.5" x2="335.44" y2="147.1" stroke="#2a2a2a" stroke-width="1"/>
<line x1="355.62" y1="254.3" x2="355.62" y2="252.7" stroke="#2a2a2a" stroke-width="1"/>
<line x1="355.62" y1="145.5" x2="355.62" y2="147.1" stroke="#2a2a2a" stroke-width="1"/>
<line x1="214.5" y1="242.44" x2="216.1" y2="242.44" stroke="#2a2a2a" stroke-width="1"/>
<line x1="355.5" y1="242.44" x2="353.9" y2="242.44" stroke="#2a2a2a" stroke-width="1"/>
<line x1="214.5" y1="212.11" x2="216.1" y2="212.11" stroke="#2a2a2a" stroke-width="1"/>
<line x1="355.5" y1="212.11" x2="353.9" y2="212.11" stroke="#2a2a2a" stroke-width="1"/>
<line x1="214.5" y1="181.78" x2="216.1" y2="181.78" stroke="#2a2a2a" stroke-width="1"/>
<line x1="355.5" y1="181.78" x2="353.9" y2="181.78" stroke="#2a2a2a" stroke-width="1"/>
<line x1="214.5" y1="151.44" x2="216.1" y2="151.44" stroke="#2a2a2a" stroke-width="1"/>
<line x1="355.5" y1="151.44" x2="353.9" y2="151.44" stroke="#2a2a2a" stroke-width="1"/>
<rect x="214.5" y="145.5" width="141" height="108.8" stroke="#2a2a2a" stroke-width="1" fill="none"/>
<text x="214.46" y="260.9" font-size="8.7" font-family='"Liberation Sans", sans-serif' font-weight="normal" text-anchor="middle" dominant-baseline="central" fill="#000" letter-spacing="0.25" stroke="#000" stroke-width="0.25">0</text>
<text x="234.64" y="260.9" font-size="8.7" font-family='"Liberation Sans", sans-serif' font-weight="normal" text-anchor="middle" dominant-baseline="central" fill="#000" letter-spacing="0.25" stroke="#000" stroke-width="0.25">1</text>
<text x="254.82" y="260.9" font-size="8.7" font-family='"Liberation Sans", sans-serif' font-weight="normal" text-anchor="middle" dominant-baseline="central" fill="#000" letter-spacing="0.25" stroke="#000" stroke-width="0.25">2</text>
<text x="275" y="260.9" font-size="8.7" font-family='"Liberation Sans", sans-serif' font-weight="normal" text-anchor="middle" dominant-baseline="central" fill="#000" letter-spacing="0.25" stroke="#000" stroke-width="0.25">3</text>
<text x="295.18" y="260.9" font-size="8.7" font-family='"Liberation Sans", sans-serif' font-weight="normal" text-anchor="middle" dominant-baseline="central" fill="#000" letter-spacing="0.25" stroke="#000" stroke-width="0.25">4</text>
<text x="315.36" y="260.9" font-size="8.7" font-family='"Liberation Sans", sans-serif' font-weight="normal" text-anchor="middle" dominant-baseline="central" fill="#000" letter-spacing="0.25" stroke="#000" stroke-width="0.25">5</text>
<text x="335.54" y="260.9" font-size="8.7" font-family='"Liberation Sans", sans-serif' font-weight="normal" text-anchor="middle" dominant-baseline="central" fill="#000" letter-spacing="0.25" stroke="#000" stroke-width="0.25">6</text>
<text x="355.72" y="260.9" font-size="8.7" font-family='"Liberation Sans", sans-serif' font-weight="normal" text-anchor="middle" dominant-baseline="central" fill="#000" letter-spacing="0.25" stroke="#000" stroke-width="0.25">7</text>
<text x="213.3" y="242.25" font-size="8.7" font-family='"Liberation Sans", sans-serif' font-weight="normal" text-anchor="end" dominant-baseline="central" fill="#000" letter-spacing="0.25" stroke="#000" stroke-width="0.25">0.5</text>
<text x="213.3" y="211.91" font-size="8.7" font-family='"Liberation Sans", sans-serif' font-weight="normal" text-anchor="end" dominant-baseline="central" fill="#000" letter-spacing="0.25" stroke="#000" stroke-width="0.25">1</text>
<text x="213.3" y="181.58" font-size="8.7" font-family='"Liberation Sans", sans-serif' font-weight="normal" text-anchor="end" dominant-baseline="central" fill="#000" letter-spacing="0.25" stroke="#000" stroke-width="0.25">1.5</text>
<text x="213.3" y="151.24" font-size="8.7" font-family='"Liberation Sans", sans-serif' font-weight="normal" text-anchor="end" dominant-baseline="central" fill="#000" letter-spacing="0.25" stroke="#000" stroke-width="0.25">2</text>
<text x="284.8" y="269.8" font-size="8.7" font-family='"Liberation Sans", sans-serif' font-weight="normal" text-anchor="middle" dominant-baseline="central" fill="#000" letter-spacing="0.25" stroke="#000" stroke-width="0.25">DOI position (mm)</text>
<rect x="312.3" y="153.7" width="33" height="36.6" stroke="#2a2a2a" stroke-width="1" fill="#fff"/>
<line x1="315.2" y1="160.4" x2="328.3" y2="160.4" stroke="#0000ff" stroke-width="1.2"/>
<path d="M318.87 160.4H324.63M321.75 157.2V163.6M319.77 157.84L323.73 162.96M319.77 162.96L323.73 157.84" stroke="#0000ff" stroke-width="1.05" fill="none"/>
<text x="330.1" y="160.4" font-size="9.2" font-family='"Liberation Sans", sans-serif' font-weight="normal" text-anchor="start" dominant-baseline="central" fill="#000" letter-spacing="0.25" stroke="#000" stroke-width="0.25">DD</text>
<line x1="315.2" y1="172.2" x2="328.3" y2="172.2" stroke="#ff0000" stroke-width="1.2"/>
<circle cx="321.75" cy="172.2" r="3.15" stroke="#ff0000" stroke-width="1.2" fill="none"/>
<text x="330.1" y="172.2" font-size="9.2" font-family='"Liberation Sans", sans-serif' font-weight="normal" text-anchor="start" dominant-baseline="central" fill="#000" letter-spacing="0.25" stroke="#000" stroke-width="0.25">DS</text>
<line x1="315.2" y1="183.6" x2="328.3" y2="183.6" stroke="#ff00ff" stroke-width="1.2"/>
<path d="M319.29 181.13L324.21 186.06M319.29 186.06L324.21 181.13" stroke="#ff00ff" stroke-width="1.3" fill="none"/>
<text x="330.1" y="183.6" font-size="9.2" font-family='"Liberation Sans", sans-serif' font-weight="normal" text-anchor="start" dominant-baseline="central" fill="#000" letter-spacing="0.25" stroke="#000" stroke-width="0.25">SD</text>
<text x="343.4" y="242.7" font-size="13.5" font-family='"Liberation Serif", serif' font-weight="normal" text-anchor="middle" dominant-baseline="central" fill="#111" letter-spacing="0.1" stroke="#111" stroke-width="0.05">(d)</text>
<rect x="106.5" y="150.4" width="56.5" height="42" fill="#fff"/>
<path d="M106.5 161.8 L114.57 170.6 L122.64 181.6 L130.71 179.4 L138.79 170.6 L146.86 171.7 L154.93 168.9 L163 176.5" stroke="#000" stroke-width="0.95" fill="none"/>
<rect x="105.05" y="160.35" width="2.9" height="2.9" stroke="#000" stroke-width="0.95" fill="none"/>
<rect x="113.12" y="169.15" width="2.9" height="2.9" stroke="#000" stroke-width="0.95" fill="none"/>
<rect x="121.19" y="180.15" width="2.9" height="2.9" stroke="#000" stroke-width="0.95" fill="none"/>
<rect x="129.26" y="177.95" width="2.9" height="2.9" stroke="#000" stroke-width="0.95" fill="none"/>
<rect x="137.34" y="169.15" width="2.9" height="2.9" stroke="#000" stroke-width="0.95" fill="none"/>
<rect x="145.41" y="170.25" width="2.9" height="2.9" stroke="#000" stroke-width="0.95" fill="none"/>
<rect x="153.48" y="167.45" width="2.9" height="2.9" stroke="#000" stroke-width="0.95" fill="none"/>
<rect x="161.55" y="175.05" width="2.9" height="2.9" stroke="#000" stroke-width="0.95" fill="none"/>
<line x1="106.5" y1="192.4" x2="106.5" y2="191.4" stroke="#2a2a2a" stroke-width="0.9"/>
<line x1="106.5" y1="150.4" x2="106.5" y2="151.4" stroke="#2a2a2a" stroke-width="0.9"/>
<line x1="114.57" y1="192.4" x2="114.57" y2="191.4" stroke="#2a2a2a" stroke-width="0.9"/>
<line x1="114.57" y1="150.4" x2="114.57" y2="151.4" stroke="#2a2a2a" stroke-width="0.9"/>
<line x1="122.64" y1="192.4" x2="122.64" y2="191.4" stroke="#2a2a2a" stroke-width="0.9"/>
<line x1="122.64" y1="150.4" x2="122.64" y2="151.4" stroke="#2a2a2a" stroke-width="0.9"/>
<line x1="130.71" y1="192.4" x2="130.71" y2="191.4" stroke="#2a2a2a" stroke-width="0.9"/>
<line x1="130.71" y1="150.4" x2="130.71" y2="151.4" stroke="#2a2a2a" stroke-width="0.9"/>
<line x1="138.79" y1="192.4" x2="138.79" y2="191.4" stroke="#2a2a2a" stroke-width="0.9"/>
<line x1="138.79" y1="150.4" x2="138.79" y2="151.4" stroke="#2a2a2a" stroke-width="0.9"/>
<line x1="146.86" y1="192.4" x2="146.86" y2="191.4" stroke="#2a2a2a" stroke-width="0.9"/>
<line x1="146.86" y1="150.4" x2="146.86" y2="151.4" stroke="#2a2a2a" stroke-width="0.9"/>
<line x1="154.93" y1="192.4" x2="154.93" y2="191.4" stroke="#2a2a2a" stroke-width="0.9"/>
<line x1="154.93" y1="150.4" x2="154.93" y2="151.4" stroke="#2a2a2a" stroke-width="0.9"/>
<line x1="163" y1="192.4" x2="163" y2="191.4" stroke="#2a2a2a" stroke-width="0.9"/>
<line x1="163" y1="150.4" x2="163" y2="151.4" stroke="#2a2a2a" stroke-width="0.9"/>
<line x1="106.5" y1="192.4" x2="107.5" y2="192.4" stroke="#2a2a2a" stroke-width="0.9"/>
<line x1="163" y1="192.4" x2="162" y2="192.4" stroke="#2a2a2a" stroke-width="0.9"/>
<line x1="106.5" y1="178.4" x2="107.5" y2="178.4" stroke="#2a2a2a" stroke-width="0.9"/>
<line x1="163" y1="178.4" x2="162" y2="178.4" stroke="#2a2a2a" stroke-width="0.9"/>
<line x1="106.5" y1="164.4" x2="107.5" y2="164.4" stroke="#2a2a2a" stroke-width="0.9"/>
<line x1="163" y1="164.4" x2="162" y2="164.4" stroke="#2a2a2a" stroke-width="0.9"/>
<line x1="106.5" y1="150.4" x2="107.5" y2="150.4" stroke="#2a2a2a" stroke-width="0.9"/>
<line x1="163" y1="150.4" x2="162" y2="150.4" stroke="#2a2a2a" stroke-width="0.9"/>
<rect x="106.5" y="150.4" width="56.5" height="42" stroke="#2a2a2a" stroke-width="0.9" fill="none"/>
<text x="106.5" y="196.9" font-size="5.5" font-family='"Liberation Sans", sans-serif' font-weight="normal" text-anchor="middle" dominant-baseline="central" fill="#333" letter-spacing="0" stroke="#333" stroke-width="0.1">0</text>
<text x="114.57" y="196.9" font-size="5.5" font-family='"Liberation Sans", sans-serif' font-weight="normal" text-anchor="middle" dominant-baseline="central" fill="#333" letter-spacing="0" stroke="#333" stroke-width="0.1">1</text>
<text x="122.64" y="196.9" font-size="5.5" font-family='"Liberation Sans", sans-serif' font-weight="normal" text-anchor="middle" dominant-baseline="central" fill="#333" letter-spacing="0" stroke="#333" stroke-width="0.1">2</text>
<text x="130.71" y="196.9" font-size="5.5" font-family='"Liberation Sans", sans-serif' font-weight="normal" text-anchor="middle" dominant-baseline="central" fill="#333" letter-spacing="0" stroke="#333" stroke-width="0.1">3</text>
<text x="138.79" y="196.9" font-size="5.5" font-family='"Liberation Sans", sans-serif' font-weight="normal" text-anchor="middle" dominant-baseline="central" fill="#333" letter-spacing="0" stroke="#333" stroke-width="0.1">4</text>
<text x="146.86" y="196.9" font-size="5.5" font-family='"Liberation Sans", sans-serif' font-weight="normal" text-anchor="middle" dominant-baseline="central" fill="#333" letter-spacing="0" stroke="#333" stroke-width="0.1">5</text>
<text x="154.93" y="196.9" font-size="5.5" font-family='"Liberation Sans", sans-serif' font-weight="normal" text-anchor="middle" dominant-baseline="central" fill="#333" letter-spacing="0" stroke="#333" stroke-width="0.1">6</text>
<text x="163" y="196.9" font-size="5.5" font-family='"Liberation Sans", sans-serif' font-weight="normal" text-anchor="middle" dominant-baseline="central" fill="#333" letter-spacing="0" stroke="#333" stroke-width="0.1">7</text>
<text x="105" y="192.9" font-size="5.5" font-family='"Liberation Sans", sans-serif' font-weight="normal" text-anchor="end" dominant-baseline="central" fill="#333" letter-spacing="0" stroke="#333" stroke-width="0.1">8.8</text>
<text x="105" y="178.9" font-size="5.5" font-family='"Liberation Sans", sans-serif' font-weight="normal" text-anchor="end" dominant-baseline="central" fill="#333" letter-spacing="0" stroke="#333" stroke-width="0.1">9</text>
<text x="105" y="164.9" font-size="5.5" font-family='"Liberation Sans", sans-serif' font-weight="normal" text-anchor="end" dominant-baseline="central" fill="#333" letter-spacing="0" stroke="#333" stroke-width="0.1">9.2</text>
<text x="105" y="150.9" font-size="5.5" font-family='"Liberation Sans", sans-serif' font-weight="normal" text-anchor="end" dominant-baseline="central" fill="#333" letter-spacing="0" stroke="#333" stroke-width="0.1">9.4</text>
<text x="134.35" y="203.5" font-size="5.2" font-family='"Liberation Sans", sans-serif' font-weight="bold" text-anchor="middle" dominant-baseline="central" fill="#000" letter-spacing="0">DOI position (mm)</text>
<text x="91" y="172.4" font-size="5.2" font-family='"Liberation Sans", sans-serif' font-weight="bold" text-anchor="middle" dominant-baseline="central" fill="#000" letter-spacing="0" transform="rotate(-90 91 172.4)">DOI resolution (mm)</text>
<rect x="121.1" y="152.4" width="27" height="9.9" stroke="#2a2a2a" stroke-width="0.8" fill="#fff"/>
<line x1="123.8" y1="157.35" x2="136.6" y2="157.35" stroke="#000" stroke-width="0.8"/>
<rect x="129" y="155.95" width="2.8" height="2.8" stroke="#000" stroke-width="0.95" fill="none"/>
<text x="138.6" y="157.55" font-size="6.4" font-family='"Liberation Sans", sans-serif' font-weight="normal" text-anchor="start" dominant-baseline="central" fill="#444" letter-spacing="0">SS</text>
<rect x="244.5" y="149.5" width="56" height="42" fill="#fff"/>
<path d="M244.5 177.7 L252.5 169.9 L260.5 181.5 L268.5 178.1 L276.5 176.3 L284.5 179.2 L292.5 178.3 L300.5 189" stroke="#000" stroke-width="0.95" fill="none"/>
<rect x="243.05" y="176.25" width="2.9" height="2.9" stroke="#000" stroke-width="0.95" fill="none"/>
<rect x="251.05" y="168.45" width="2.9" height="2.9" stroke="#000" stroke-width="0.95" fill="none"/>
<rect x="259.05" y="180.05" width="2.9" height="2.9" stroke="#000" stroke-width="0.95" fill="none"/>
<rect x="267.05" y="176.65" width="2.9" height="2.9" stroke="#000" stroke-width="0.95" fill="none"/>
<rect x="275.05" y="174.85" width="2.9" height="2.9" stroke="#000" stroke-width="0.95" fill="none"/>
<rect x="283.05" y="177.75" width="2.9" height="2.9" stroke="#000" stroke-width="0.95" fill="none"/>
<rect x="291.05" y="176.85" width="2.9" height="2.9" stroke="#000" stroke-width="0.95" fill="none"/>
<rect x="299.05" y="187.55" width="2.9" height="2.9" stroke="#000" stroke-width="0.95" fill="none"/>
<line x1="244.5" y1="191.5" x2="244.5" y2="190.5" stroke="#2a2a2a" stroke-width="0.9"/>
<line x1="244.5" y1="149.5" x2="244.5" y2="150.5" stroke="#2a2a2a" stroke-width="0.9"/>
<line x1="252.5" y1="191.5" x2="252.5" y2="190.5" stroke="#2a2a2a" stroke-width="0.9"/>
<line x1="252.5" y1="149.5" x2="252.5" y2="150.5" stroke="#2a2a2a" stroke-width="0.9"/>
<line x1="260.5" y1="191.5" x2="260.5" y2="190.5" stroke="#2a2a2a" stroke-width="0.9"/>
<line x1="260.5" y1="149.5" x2="260.5" y2="150.5" stroke="#2a2a2a" stroke-width="0.9"/>
<line x1="268.5" y1="191.5" x2="268.5" y2="190.5" stroke="#2a2a2a" stroke-width="0.9"/>
<line x1="268.5" y1="149.5" x2="268.5" y2="150.5" stroke="#2a2a2a" stroke-width="0.9"/>
<line x1="276.5" y1="191.5" x2="276.5" y2="190.5" stroke="#2a2a2a" stroke-width="0.9"/>
<line x1="276.5" y1="149.5" x2="276.5" y2="150.5" stroke="#2a2a2a" stroke-width="0.9"/>
<line x1="284.5" y1="191.5" x2="284.5" y2="190.5" stroke="#2a2a2a" stroke-width="0.9"/>
<line x1="284.5" y1="149.5" x2="284.5" y2="150.5" stroke="#2a2a2a" stroke-width="0.9"/>
<line x1="292.5" y1="191.5" x2="292.5" y2="190.5" stroke="#2a2a2a" stroke-width="0.9"/>
<line x1="292.5" y1="149.5" x2="292.5" y2="150.5" stroke="#2a2a2a" stroke-width="0.9"/>
<line x1="300.5" y1="191.5" x2="300.5" y2="190.5" stroke="#2a2a2a" stroke-width="0.9"/>
<line x1="300.5" y1="149.5" x2="300.5" y2="150.5" stroke="#2a2a2a" stroke-width="0.9"/>
<line x1="244.5" y1="191.5" x2="245.5" y2="191.5" stroke="#2a2a2a" stroke-width="0.9"/>
<line x1="300.5" y1="191.5" x2="299.5" y2="191.5" stroke="#2a2a2a" stroke-width="0.9"/>
<line x1="244.5" y1="170.5" x2="245.5" y2="170.5" stroke="#2a2a2a" stroke-width="0.9"/>
<line x1="300.5" y1="170.5" x2="299.5" y2="170.5" stroke="#2a2a2a" stroke-width="0.9"/>
<line x1="244.5" y1="149.5" x2="245.5" y2="149.5" stroke="#2a2a2a" stroke-width="0.9"/>
<line x1="300.5" y1="149.5" x2="299.5" y2="149.5" stroke="#2a2a2a" stroke-width="0.9"/>
<rect x="244.5" y="149.5" width="56" height="42" stroke="#2a2a2a" stroke-width="0.9" fill="none"/>
<text x="244.5" y="196.3" font-size="5.5" font-family='"Liberation Sans", sans-serif' font-weight="normal" text-anchor="middle" dominant-baseline="central" fill="#333" letter-spacing="0" stroke="#333" stroke-width="0.1">0</text>
<text x="252.5" y="196.3" font-size="5.5" font-family='"Liberation Sans", sans-serif' font-weight="normal" text-anchor="middle" dominant-baseline="central" fill="#333" letter-spacing="0" stroke="#333" stroke-width="0.1">1</text>
<text x="260.5" y="196.3" font-size="5.5" font-family='"Liberation Sans", sans-serif' font-weight="normal" text-anchor="middle" dominant-baseline="central" fill="#333" letter-spacing="0" stroke="#333" stroke-width="0.1">2</text>
<text x="268.5" y="196.3" font-size="5.5" font-family='"Liberation Sans", sans-serif' font-weight="normal" text-anchor="middle" dominant-baseline="central" fill="#333" letter-spacing="0" stroke="#333" stroke-width="0.1">3</text>
<text x="276.5" y="196.3" font-size="5.5" font-family='"Liberation Sans", sans-serif' font-weight="normal" text-anchor="middle" dominant-baseline="central" fill="#333" letter-spacing="0" stroke="#333" stroke-width="0.1">4</text>
<text x="284.5" y="196.3" font-size="5.5" font-family='"Liberation Sans", sans-serif' font-weight="normal" text-anchor="middle" dominant-baseline="central" fill="#333" letter-spacing="0" stroke="#333" stroke-width="0.1">5</text>
<text x="292.5" y="196.3" font-size="5.5" font-family='"Liberation Sans", sans-serif' font-weight="normal" text-anchor="middle" dominant-baseline="central" fill="#333" letter-spacing="0" stroke="#333" stroke-width="0.1">6</text>
<text x="300.5" y="196.3" font-size="5.5" font-family='"Liberation Sans", sans-serif' font-weight="normal" text-anchor="middle" dominant-baseline="central" fill="#333" letter-spacing="0" stroke="#333" stroke-width="0.1">7</text>
<text x="243" y="192" font-size="5.5" font-family='"Liberation Sans", sans-serif' font-weight="normal" text-anchor="end" dominant-baseline="central" fill="#333" letter-spacing="0" stroke="#333" stroke-width="0.1">8.5</text>
<text x="243" y="171" font-size="5.5" font-family='"Liberation Sans", sans-serif' font-weight="normal" text-anchor="end" dominant-baseline="central" fill="#333" letter-spacing="0" stroke="#333" stroke-width="0.1">9</text>
<text x="243" y="150" font-size="5.5" font-family='"Liberation Sans", sans-serif' font-weight="normal" text-anchor="end" dominant-baseline="central" fill="#333" letter-spacing="0" stroke="#333" stroke-width="0.1">9.5</text>
<text x="272.5" y="201" font-size="5.2" font-family='"Liberation Sans", sans-serif' font-weight="bold" text-anchor="middle" dominant-baseline="central" fill="#000" letter-spacing="0">DOI position (mm)</text>
<text x="229.3" y="171.5" font-size="5.2" font-family='"Liberation Sans", sans-serif' font-weight="bold" text-anchor="middle" dominant-baseline="central" fill="#000" letter-spacing="0" transform="rotate(-90 229.3 171.5)">DOI resolution (mm)</text>
<rect x="258" y="152" width="27" height="9" stroke="#2a2a2a" stroke-width="0.8" fill="#fff"/>
<line x1="260.7" y1="156.5" x2="273.5" y2="156.5" stroke="#000" stroke-width="0.8"/>
<rect x="265.9" y="155.1" width="2.8" height="2.8" stroke="#000" stroke-width="0.95" fill="none"/>
<text x="275.5" y="156.7" font-size="6.4" font-family='"Liberation Sans", sans-serif' font-weight="normal" text-anchor="start" dominant-baseline="central" fill="#444" letter-spacing="0">SS</text>
<text x="5.1" y="59" font-size="8.7" font-family='"Liberation Sans", sans-serif' font-weight="normal" text-anchor="middle" dominant-baseline="central" fill="#000" letter-spacing="0.25" transform="rotate(-90 5.1 59)" stroke="#000" stroke-width="0.25">DOI positioning error (mm)</text>
<text x="192.4" y="59" font-size="8.7" font-family='"Liberation Sans", sans-serif' font-weight="normal" text-anchor="middle" dominant-baseline="central" fill="#000" letter-spacing="0.25" transform="rotate(-90 192.4 59)" stroke="#000" stroke-width="0.25">DOI positioning error (mm)</text>
<text x="4.9" y="199.8" font-size="8.7" font-family='"Liberation Sans", sans-serif' font-weight="normal" text-anchor="middle" dominant-baseline="central" fill="#000" letter-spacing="0.25" transform="rotate(-90 4.9 199.8)" stroke="#000" stroke-width="0.25">DOI resolution (mm)</text>
<text x="192.6" y="199.6" font-size="8.7" font-family='"Liberation Sans", sans-serif' font-weight="normal" text-anchor="middle" dominant-baseline="central" fill="#000" letter-spacing="0.25" transform="rotate(-90 192.6 199.6)" stroke="#000" stroke-width="0.25">DOI resolution (mm)</text>
</svg>
</body></html>
